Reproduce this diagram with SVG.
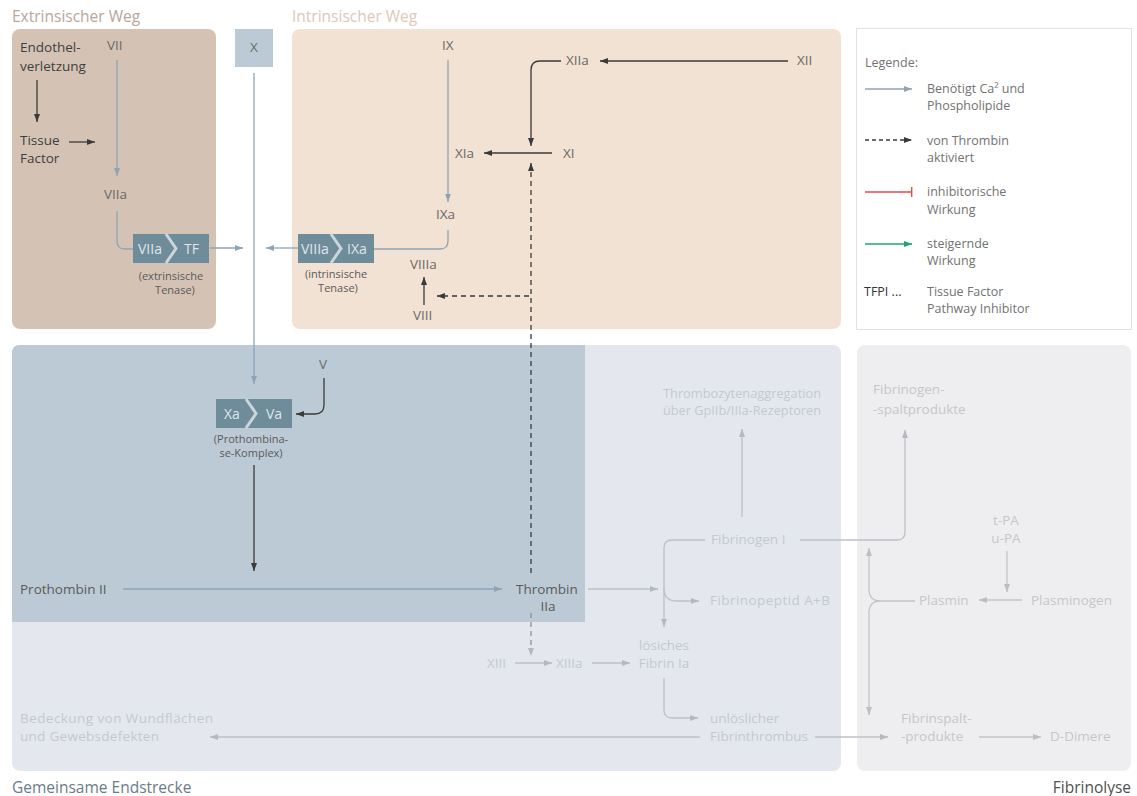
<svg xmlns="http://www.w3.org/2000/svg" width="1137" height="796" viewBox="0 0 1137 796">
<style>
text{font-family:"Open Sans","Liberation Sans",sans-serif;font-size:13.5px;fill:#6a6a6a}
.dk{fill:#3e3e3e}
.md{fill:#5a5a5a}
.lt{fill:#c3c8ce}
.fl{fill:#c6c6ca}
.sm{font-size:11px;fill:#5a5a5a}
.bx{fill:#dfe6ea;font-size:14px}
.ttl{font-size:15.5px}
.lg{font-size:12.5px;fill:#727272}
.c-dk{stroke:#3a3a3a;stroke-width:1.3;fill:none}
.c-bl{stroke:#8ea5b5;stroke-width:1.3;fill:none}
.c-lt{stroke:#bcc1c7;stroke-width:1.3;fill:none}
.c-fl{stroke:#c4c4c8;stroke-width:1.3;fill:none}
.dash{stroke-dasharray:5 4}
</style>
<defs>
<marker id="mdk" viewBox="0 0 8 6" refX="8" refY="3" markerWidth="8" markerHeight="6" orient="auto" markerUnits="userSpaceOnUse"><path d="M0,0 L8,3 L0,6 z" fill="#3a3a3a"/></marker>
<marker id="mbl" viewBox="0 0 8 6" refX="8" refY="3" markerWidth="8" markerHeight="6" orient="auto" markerUnits="userSpaceOnUse"><path d="M0,0 L8,3 L0,6 z" fill="#8ea5b5"/></marker>
<marker id="mlt" viewBox="0 0 8 6" refX="8" refY="3" markerWidth="8" markerHeight="6" orient="auto" markerUnits="userSpaceOnUse"><path d="M0,0 L8,3 L0,6 z" fill="#b4b9c0"/></marker>
<marker id="mfl" viewBox="0 0 8 6" refX="8" refY="3" markerWidth="8" markerHeight="6" orient="auto" markerUnits="userSpaceOnUse"><path d="M0,0 L8,3 L0,6 z" fill="#bdbdc2"/></marker>
<marker id="mgr" viewBox="0 0 8 6" refX="8" refY="3" markerWidth="8" markerHeight="6" orient="auto" markerUnits="userSpaceOnUse"><path d="M0,0 L8,3 L0,6 z" fill="#1fa86a"/></marker>
<marker id="mrd" viewBox="0 0 2 10" refX="1" refY="5" markerWidth="2" markerHeight="10" orient="auto" markerUnits="userSpaceOnUse"><rect x="0" y="0" width="1.4" height="10" fill="#e8484d"/></marker>
</defs>

<g id="panels">
<rect x="12" y="29" width="204" height="300" rx="8" fill="#d4c3b5"/>
<rect x="292" y="29" width="549" height="300" rx="8" fill="#f2e2d4"/>
<rect x="856.5" y="28.5" width="275" height="301" fill="#ffffff" stroke="#e2e2e2"/>
<rect x="12" y="345" width="829" height="426" rx="8" fill="#e4e8ee"/>
<path d="M12,622 V353 Q12,345 20,345 H585 V622 Z" fill="#bccad5"/>
<rect x="857" y="345" width="274" height="426" rx="8" fill="#eeeef0"/>
<text class="ttl" x="12" y="22" style="fill:#b7a799">Extrinsischer Weg</text>
<text class="ttl" x="292" y="22" style="fill:#dcc9b8">Intrinsischer Weg</text>
<text class="ttl" x="12" y="793" style="fill:#6b7b89">Gemeinsame Endstrecke</text>
<text class="ttl" x="1131" y="793" text-anchor="end" style="fill:#505050">Fibrinolyse</text>
</g>

<g id="connectors">
<line class="c-dk" x1="37" y1="80" x2="37" y2="122" marker-end="url(#mdk)"/>
<line class="c-dk" x1="69" y1="142" x2="95" y2="142" marker-end="url(#mdk)"/>
<line class="c-bl" x1="117" y1="60" x2="117" y2="176" marker-end="url(#mbl)"/>
<path class="c-bl" d="M117,211 V241 Q117,249 125,249 H133"/>
<line class="c-bl" x1="210" y1="248" x2="243" y2="248" marker-end="url(#mbl)"/>
<line class="c-bl" x1="298" y1="248" x2="266" y2="248" marker-end="url(#mbl)"/>
<line class="c-bl" x1="254" y1="73" x2="254" y2="384" marker-end="url(#mbl)"/>
<line class="c-bl" x1="448" y1="60" x2="448" y2="202" marker-end="url(#mbl)"/>
<path class="c-bl" d="M448,230 V241 Q448,249 440,249 H374"/>
<line class="c-dk" x1="424" y1="305" x2="424" y2="277" marker-end="url(#mdk)"/>
<line class="c-dk" x1="788" y1="61" x2="600" y2="61" marker-end="url(#mdk)"/>
<path class="c-dk" d="M561,61 H540 Q531,61 531,70 V146" marker-end="url(#mdk)"/>
<line class="c-dk" x1="552" y1="153" x2="484" y2="153" marker-end="url(#mdk)"/>
<line class="c-dk dash" x1="531" y1="573" x2="531" y2="163" marker-end="url(#mdk)"/>
<line class="c-dk dash" x1="529" y1="296" x2="437" y2="296" marker-end="url(#mdk)"/>
<line class="c-dk dash" x1="531" y1="613" x2="531" y2="656" style="stroke:#909090" marker-end="url(#mlt)"/>
<path class="c-dk" d="M324,378 V405 Q324,414 315,414 H296" marker-end="url(#mdk)"/>
<line class="c-dk" x1="254" y1="465" x2="254" y2="571" marker-end="url(#mdk)"/>
<line class="c-bl" x1="123" y1="589" x2="502" y2="589" marker-end="url(#mbl)"/>
<line class="c-lt" x1="588" y1="589" x2="658" y2="589" marker-end="url(#mlt)"/>
<path class="c-lt" d="M705,540 H672 Q664,540 664,548 V627" marker-end="url(#mlt)"/>
<path class="c-lt" d="M664,588 Q664,601 676,601 H699" marker-end="url(#mlt)"/>
<line class="c-lt" x1="742" y1="517" x2="742" y2="429" marker-end="url(#mlt)"/>
<path class="c-lt" d="M800,540 H897 Q905,540 905,532 V430" marker-end="url(#mlt)"/>
<line class="c-lt" x1="515" y1="663" x2="552" y2="663" marker-end="url(#mlt)"/>
<line class="c-lt" x1="592" y1="663" x2="630" y2="663" marker-end="url(#mlt)"/>
<path class="c-lt" d="M664,678 V710 Q664,718 672,718 H698" marker-end="url(#mlt)"/>
<line class="c-lt" x1="700" y1="737" x2="210" y2="737" marker-end="url(#mlt)"/>
<line class="c-lt" x1="815" y1="737" x2="888" y2="737" marker-end="url(#mlt)"/>
<line class="c-fl" x1="1007" y1="551" x2="1007" y2="592" marker-end="url(#mfl)"/>
<line class="c-fl" x1="1022" y1="600" x2="979" y2="600" marker-end="url(#mfl)"/>
<path class="c-fl" d="M915,601 H880 Q870,601 869,591 V548" marker-end="url(#mfl)"/>
<path class="c-fl" d="M880,601 Q870,601 869,611 V715" marker-end="url(#mfl)"/>
<line class="c-fl" x1="979" y1="737" x2="1041" y2="737" marker-end="url(#mfl)"/>
</g>

<g id="node-endothel"><text class="dk" x="20" y="52">Endothel-</text><text class="dk" x="20" y="71">verletzung</text></g>
<g id="node-tf"><text class="dk" x="20" y="145">Tissue</text><text class="dk" x="20" y="163">Factor</text></g>
<g id="node-vii"><text x="107" y="50">VII</text></g>
<g id="node-viia"><text x="104" y="199">VIIa</text></g>
<g id="node-ext-tenase">
<rect x="133" y="234" width="76" height="29" fill="#6f8c9b"/>
<polyline points="166,234 176,248.5 166,263" fill="none" stroke="#cbd6dc" stroke-width="3"/>
<text class="bx" x="138" y="254">VIIa</text><text class="bx" x="184" y="254">TF</text>
<text class="sm" x="171" y="280" text-anchor="middle">(extrinsische</text>
<text class="sm" x="175" y="294" text-anchor="middle">Tenase)</text>
</g>
<g id="node-x"><rect x="235" y="29" width="38" height="38" fill="#bccad5"/><text x="254" y="52" text-anchor="middle">X</text></g>
<g id="node-ix"><text x="442" y="50">IX</text></g>
<g id="node-ixa"><text x="436" y="219">IXa</text></g>
<g id="node-int-tenase">
<rect x="298" y="234" width="76" height="29" fill="#6f8c9b"/>
<polyline points="331,234 341,248.5 331,263" fill="none" stroke="#cbd6dc" stroke-width="3"/>
<text class="bx" x="301" y="254">VIIIa</text><text class="bx" x="347" y="254">IXa</text>
<text class="sm" x="336" y="278" text-anchor="middle">(intrinsische</text>
<text class="sm" x="338" y="292" text-anchor="middle">Tenase)</text>
</g>
<g id="node-viiia"><text x="410" y="269">VIIIa</text></g>
<g id="node-viii"><text x="413" y="320">VIII</text></g>
<g id="node-xiia"><text x="566" y="65">XIIa</text></g>
<g id="node-xii"><text x="797" y="65">XII</text></g>
<g id="node-xi"><text x="563" y="158">XI</text></g>
<g id="node-xia"><text x="455" y="158">XIa</text></g>

<g id="legend">
<text class="lg" x="865" y="67">Legende:</text>
<line class="c-bl" x1="865" y1="89" x2="912" y2="89" marker-end="url(#mbl)"/>
<text class="lg" x="927" y="93">Benötigt Ca² und</text><text class="lg" x="927" y="110">Phospholipide</text>
<line class="c-dk dash" x1="865" y1="140" x2="912" y2="140" style="stroke-dasharray:4 3" marker-end="url(#mdk)"/>
<text class="lg" x="927" y="145">von Thrombin</text><text class="lg" x="927" y="162">aktiviert</text>
<line x1="865" y1="192" x2="912" y2="192" stroke="#e8484d" stroke-width="1.3" marker-end="url(#mrd)"/>
<text class="lg" x="927" y="196">inhibitorische</text><text class="lg" x="927" y="214">Wirkung</text>
<line x1="865" y1="244" x2="912" y2="244" stroke="#1fa86a" stroke-width="1.3" marker-end="url(#mgr)"/>
<text class="lg" x="927" y="248">steigernde</text><text class="lg" x="927" y="265">Wirkung</text>
<text class="lg" x="864" y="296" style="fill:#333">TFPI ...</text>
<text class="lg" x="927" y="296">Tissue Factor</text><text class="lg" x="927" y="313">Pathway Inhibitor</text>
</g>

<g id="node-v"><text x="319" y="369">V</text></g>
<g id="node-prothrombinase">
<rect x="216" y="399" width="76" height="29" fill="#6f8c9b"/>
<polyline points="246,399 256,413.5 246,428" fill="none" stroke="#cbd6dc" stroke-width="3"/>
<text class="bx" x="224" y="419">Xa</text><text class="bx" x="266" y="419">Va</text>
<text class="sm" x="251" y="443" text-anchor="middle">(Prothombina-</text>
<text class="sm" x="251" y="457" text-anchor="middle">se-Komplex)</text>
</g>
<g id="node-prothrombin"><text class="md" x="20" y="594">Prothombin II</text></g>
<g id="node-thrombin"><text class="md" x="516" y="594">Thrombin</text><text class="md" x="548" y="611" text-anchor="middle">IIa</text></g>
<g id="node-thrombo"><text class="lt" x="663" y="398" textLength="158" lengthAdjust="spacingAndGlyphs">Thrombozytenaggregation</text><text class="lt" x="663" y="415" textLength="158" lengthAdjust="spacingAndGlyphs">über GpIIb/IIIa-Rezeptoren</text></g>
<g id="node-fibrinogen"><text class="lt" x="711" y="544">Fibrinogen I</text></g>
<g id="node-fibrinopeptid"><text class="lt" x="710" y="605" textLength="120">Fibrinopeptid A+B</text></g>
<g id="node-loeslich"><text class="lt" x="664" y="650" text-anchor="middle">lösiches</text><text class="lt" x="664" y="668" text-anchor="middle">Fibrin Ia</text></g>
<g id="node-xiii"><text class="lt" x="487" y="668">XIII</text></g>
<g id="node-xiiia"><text class="lt" x="556" y="668">XIIIa</text></g>
<g id="node-unloeslich"><text class="lt" x="710" y="723">unlöslicher</text><text class="lt" x="710" y="741">Fibrinthrombus</text></g>
<g id="node-bedeckung"><text class="lt" x="20" y="723" textLength="193">Bedeckung von Wundflächen</text><text class="lt" x="20" y="741" textLength="139">und Gewebsdefekten</text></g>
<g id="node-fgsp"><text class="fl" x="873" y="394">Fibrinogen-</text><text class="fl" x="873" y="414">-spaltprodukte</text></g>
<g id="node-tpa"><text class="fl" x="1006" y="525" text-anchor="middle">t-PA</text><text class="fl" x="1006" y="543" text-anchor="middle">u-PA</text></g>
<g id="node-plasmin"><text class="fl" x="919" y="605">Plasmin</text></g>
<g id="node-plasminogen"><text class="fl" x="1031" y="605">Plasminogen</text></g>
<g id="node-fbsp"><text class="fl" x="901" y="723">Fibrinspalt-</text><text class="fl" x="901" y="741">-produkte</text></g>
<g id="node-ddimer"><text class="fl" x="1050" y="741">D-Dimere</text></g>
</svg>
